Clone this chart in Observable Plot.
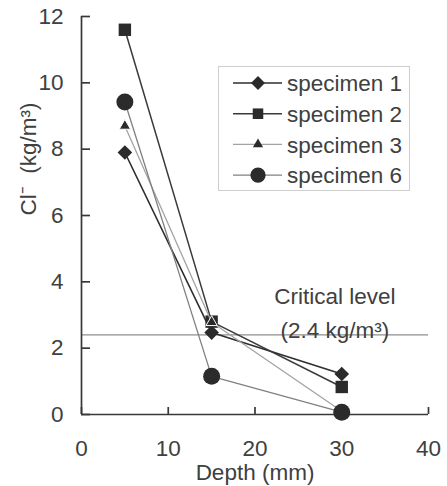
<!DOCTYPE html>
<html><head><meta charset="utf-8">
<script src="https://cdn.jsdelivr.net/npm/d3@7"></script>
<script src="https://cdn.jsdelivr.net/npm/@observablehq/plot@0.6"></script>
<style>
body{margin:0;background:#fff;}
#wrap{position:relative;width:447px;height:486px;font-family:"Liberation Sans",Arial,sans-serif;}
#legend{position:absolute;left:218px;top:66px;width:192px;height:125px;border:1px solid #cfcfcf;background:#fff;box-sizing:border-box;}
</style></head><body><div id="wrap"></div>
<script>
// ---- data ----
const depths = [5, 15, 30];
const specimens = ["specimen 1", "specimen 2", "specimen 3", "specimen 6"];
const spec1 = [7.9, 2.47, 1.22];
const spec2 = [11.6, 2.8, 0.83];
const spec3 = [8.7, 2.78, 0.1];
const spec6 = [9.42, 1.15, 0.07];
const criticalLevel = 2.4;
const criticalLabel = "Critical level\n(2.4 kg/m³)";
const xTicks = [0, 10, 20, 30, 40];
const yTicks = [0, 2, 4, 6, 8, 10, 12];

// ---- styles ----
const styles = {
  "specimen 1": {symbol: "diamond2", r: 6.6, stroke: "#2e2e2e", sw: 1.6},
  "specimen 2": {symbol: "square", r: 7.0, stroke: "#3a3a3a", sw: 1.5},
  "specimen 3": {symbol: "triangle", r: 4.2, stroke: "#a3a3a3", sw: 1.3},
  "specimen 6": {symbol: "circle", r: 8.5, stroke: "#808080", sw: 1.3}
};
const seriesValues = [spec1, spec2, spec3, spec6];
const rows = specimens.flatMap((s, i) => depths.map((d, j) => ({specimen: s, depth: d, cl: seriesValues[i][j]})));

const font = '"Liberation Sans", Arial, sans-serif';
const txt = "#404040";
const axisC = "#383838";
const fs = 22.5;

const seriesMarks = specimens.flatMap(s => {
  const st = styles[s];
  const data = rows.filter(r => r.specimen === s);
  return [
    Plot.line(data, {x: "depth", y: "cl", stroke: st.stroke, strokeWidth: st.sw}),
    Plot.dot(data, {x: "depth", y: "cl", symbol: () => st.symbol, r: st.r, fill: "#2b2b2b",
      stroke: s === "specimen 3" ? "#fff" : "none", strokeWidth: 1})
  ];
});

const plot = Plot.plot({
  width: 447, height: 486,
  marginLeft: 81, marginRight: 19, marginTop: 16, marginBottom: 72,
  style: {fontFamily: font, fontSize: fs + "px", color: txt, background: "transparent"},
  x: {domain: [0, 40]},
  y: {domain: [0, 12]},
  marks: [
    Plot.ruleY([criticalLevel], {stroke: "#8e8e8e", strokeWidth: 1.3}),
    Plot.ruleX([0], {stroke: axisC, strokeWidth: 1.7}),
    Plot.ruleY([0], {stroke: axisC, strokeWidth: 1.7}),
    Plot.axisY({ticks: yTicks, tickSize: -9, tickPadding: 27, label: null, stroke: axisC, strokeWidth: 1.7, fill: txt, fontSize: fs}),
    Plot.axisX({ticks: xTicks, tickSize: -7, tickPadding: 33, label: null, stroke: axisC, strokeWidth: 1.7, fill: txt, fontSize: fs}),
    ...seriesMarks,
    Plot.text([criticalLabel], {x: () => 29.2, y: () => criticalLevel, text: d => d, lineAnchor: "bottom", lineHeight: 1.5, dy: 3, fill: txt, fontSize: fs}),
    Plot.text(["Cl⁻  (kg/m³)"], {frameAnchor: "left", dx: -53, rotate: -90, fill: txt, fontSize: fs}),
    Plot.text(["Depth (mm)"], {frameAnchor: "bottom", dy: 50, lineAnchor: "top", fill: txt, fontSize: fs})
  ]
});

const wrap = document.getElementById("wrap");
wrap.appendChild(plot);

// ---- legend ----
const leg = document.createElement("div");
leg.id = "legend";
wrap.appendChild(leg);
const lsvg = d3.select(leg).append("svg").attr("width", 190).attr("height", 123)
  .style("font-family", font).style("font-size", fs + "px");
const symMap = {diamond2: d3.symbolDiamond2, square: d3.symbolSquare, triangle: d3.symbolTriangle, circle: d3.symbolCircle};
const legScale = [0.95, 0.85, 0.9, 0.9];
specimens.forEach((s, i) => {
  const st = styles[s];
  const cy = 16 + i * 30.7;
  const g = lsvg.append("g").attr("transform", `translate(0,${cy})`);
  g.append("line").attr("x1", 14).attr("x2", 63).attr("y1", 0).attr("y2", 0)
    .attr("stroke", st.stroke).attr("stroke-width", st.sw);
  const rr = st.r * legScale[i];
  g.append("path").attr("transform", "translate(39,0)")
    .attr("d", d3.symbol(symMap[st.symbol], Math.PI * rr * rr)())
    .attr("fill", "#2b2b2b");
  g.append("text").attr("x", 68).attr("y", 0).attr("dy", "0.36em").attr("fill", txt).text(s);
});
</script></body></html>
